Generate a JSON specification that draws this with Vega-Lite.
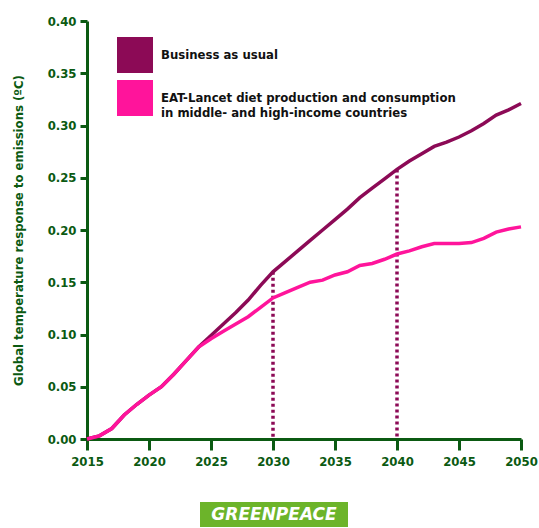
{
  "$schema": "https://vega.github.io/schema/vega-lite/v6.json",
  "padding": {"left": 12, "top": 15, "right": 5, "bottom": 0},
  "background": "white",
  "spacing": 34,
  "config": {
    "view": {"stroke": null},
    "axis": {
      "domainColor": "#0b5a12", "domainWidth": 3, "tickColor": "#0b5a12", "tickWidth": 3,
      "labelColor": "#0b5a12", "labelFont": "DejaVu Sans Condensed", "labelFontWeight": "bold", "labelFontSize": 13,
      "titleColor": "#0b5a12", "titleFont": "DejaVu Sans Condensed", "titleFontWeight": "bold", "titleFontSize": 13,
      "grid": false
    }
  },
  "datasets": {
    "lines": [
      {"year": 2015, "value": 0.0, "series": "Business as usual"},
      {"year": 2016, "value": 0.003, "series": "Business as usual"},
      {"year": 2017, "value": 0.01, "series": "Business as usual"},
      {"year": 2018, "value": 0.023, "series": "Business as usual"},
      {"year": 2019, "value": 0.033, "series": "Business as usual"},
      {"year": 2020, "value": 0.042, "series": "Business as usual"},
      {"year": 2021, "value": 0.05, "series": "Business as usual"},
      {"year": 2022, "value": 0.062, "series": "Business as usual"},
      {"year": 2023, "value": 0.075, "series": "Business as usual"},
      {"year": 2024, "value": 0.088, "series": "Business as usual"},
      {"year": 2025, "value": 0.099, "series": "Business as usual"},
      {"year": 2026, "value": 0.11, "series": "Business as usual"},
      {"year": 2027, "value": 0.121, "series": "Business as usual"},
      {"year": 2028, "value": 0.133, "series": "Business as usual"},
      {"year": 2029, "value": 0.147, "series": "Business as usual"},
      {"year": 2030, "value": 0.16, "series": "Business as usual"},
      {"year": 2031, "value": 0.17, "series": "Business as usual"},
      {"year": 2032, "value": 0.18, "series": "Business as usual"},
      {"year": 2033, "value": 0.19, "series": "Business as usual"},
      {"year": 2034, "value": 0.2, "series": "Business as usual"},
      {"year": 2035, "value": 0.21, "series": "Business as usual"},
      {"year": 2036, "value": 0.22, "series": "Business as usual"},
      {"year": 2037, "value": 0.231, "series": "Business as usual"},
      {"year": 2038, "value": 0.24, "series": "Business as usual"},
      {"year": 2039, "value": 0.249, "series": "Business as usual"},
      {"year": 2040, "value": 0.258, "series": "Business as usual"},
      {"year": 2041, "value": 0.266, "series": "Business as usual"},
      {"year": 2042, "value": 0.273, "series": "Business as usual"},
      {"year": 2043, "value": 0.28, "series": "Business as usual"},
      {"year": 2044, "value": 0.284, "series": "Business as usual"},
      {"year": 2045, "value": 0.289, "series": "Business as usual"},
      {"year": 2046, "value": 0.295, "series": "Business as usual"},
      {"year": 2047, "value": 0.302, "series": "Business as usual"},
      {"year": 2048, "value": 0.31, "series": "Business as usual"},
      {"year": 2049, "value": 0.315, "series": "Business as usual"},
      {"year": 2050, "value": 0.321, "series": "Business as usual"},
      {"year": 2015, "value": 0.0, "series": "EAT"},
      {"year": 2016, "value": 0.003, "series": "EAT"},
      {"year": 2017, "value": 0.01, "series": "EAT"},
      {"year": 2018, "value": 0.023, "series": "EAT"},
      {"year": 2019, "value": 0.033, "series": "EAT"},
      {"year": 2020, "value": 0.042, "series": "EAT"},
      {"year": 2021, "value": 0.05, "series": "EAT"},
      {"year": 2022, "value": 0.062, "series": "EAT"},
      {"year": 2023, "value": 0.075, "series": "EAT"},
      {"year": 2024, "value": 0.088, "series": "EAT"},
      {"year": 2025, "value": 0.096, "series": "EAT"},
      {"year": 2026, "value": 0.103, "series": "EAT"},
      {"year": 2027, "value": 0.11, "series": "EAT"},
      {"year": 2028, "value": 0.117, "series": "EAT"},
      {"year": 2029, "value": 0.126, "series": "EAT"},
      {"year": 2030, "value": 0.135, "series": "EAT"},
      {"year": 2031, "value": 0.14, "series": "EAT"},
      {"year": 2032, "value": 0.145, "series": "EAT"},
      {"year": 2033, "value": 0.15, "series": "EAT"},
      {"year": 2034, "value": 0.152, "series": "EAT"},
      {"year": 2035, "value": 0.157, "series": "EAT"},
      {"year": 2036, "value": 0.16, "series": "EAT"},
      {"year": 2037, "value": 0.166, "series": "EAT"},
      {"year": 2038, "value": 0.168, "series": "EAT"},
      {"year": 2039, "value": 0.172, "series": "EAT"},
      {"year": 2040, "value": 0.177, "series": "EAT"},
      {"year": 2041, "value": 0.18, "series": "EAT"},
      {"year": 2042, "value": 0.184, "series": "EAT"},
      {"year": 2043, "value": 0.187, "series": "EAT"},
      {"year": 2044, "value": 0.187, "series": "EAT"},
      {"year": 2045, "value": 0.187, "series": "EAT"},
      {"year": 2046, "value": 0.188, "series": "EAT"},
      {"year": 2047, "value": 0.192, "series": "EAT"},
      {"year": 2048, "value": 0.198, "series": "EAT"},
      {"year": 2049, "value": 0.201, "series": "EAT"},
      {"year": 2050, "value": 0.203, "series": "EAT"}
    ],
    "marks": [
      {"year": 2030, "value": 0.16},
      {"year": 2040, "value": 0.258}
    ],
    "logo": [{"text": "GREENPEACE"}],
    "empty": []
  },
  "vconcat": [
    {
      "width": 434,
      "height": 418,
      "layer": [
        {
          "data": {"name": "marks"},
          "mark": {"type": "rule", "color": "#8c0a56", "strokeWidth": 3.5, "strokeDash": [3, 3]},
          "encoding": {
            "x": {"field": "year", "type": "quantitative"},
            "y": {"field": "value", "type": "quantitative"},
            "y2": {"datum": 0}
          }
        },
        {
          "data": {"name": "lines"},
          "mark": {"type": "line", "strokeWidth": 3.5},
          "encoding": {
            "x": {
              "field": "year", "type": "quantitative",
              "scale": {"domain": [2015, 2050], "nice": false, "zero": false},
              "axis": {"title": null, "values": [2015, 2020, 2025, 2030, 2035, 2040, 2045, 2050], "format": "d", "tickSize": 11, "labelPadding": 5, "labelFlush": false}
            },
            "y": {
              "field": "value", "type": "quantitative",
              "scale": {"domain": [0, 0.4], "nice": false},
              "axis": {"title": "Global temperature response to emissions (ºC)", "values": [0, 0.05, 0.1, 0.15, 0.2, 0.25, 0.3, 0.35, 0.4], "format": ".2f", "tickSize": 7, "labelPadding": 4, "titlePadding": 22}
            },
            "color": {
              "field": "series", "type": "nominal",
              "scale": {"domain": ["Business as usual", "EAT"], "range": ["#8c0a56", "#ff149b"]},
              "legend": {
                "title": null,
                "orient": "none",
                "legendX": 30,
                "legendY": 16,
                "symbolType": "square",
                "symbolSize": 1296,
                "symbolStrokeWidth": 0,
                "rowPadding": 7,
                "labelOffset": 8,
                "labelLimit": 400,
                "labelFont": "DejaVu Sans Condensed",
                "labelFontWeight": "bold",
                "labelFontSize": 13,
                "labelColor": "#111111",
                "labelExpr": "datum.value == 'EAT' ? ['EAT-Lancet diet production and consumption', 'in middle- and high-income countries'] : datum.label",
                "encode": {"symbols": {"update": {"fill": {"scale": "color", "field": "value"}, "fillOpacity": {"value": 1}}}}
              }
            }
          }
        }
      ]
    },
    {
      "spacing": 10,
      "hconcat": [
        {
          "data": {"name": "empty"},
          "width": 103,
          "height": 25,
          "mark": {"type": "text"},
          "encoding": {}
        },
        {
          "data": {"name": "logo"},
          "width": 148,
          "height": 25,
          "view": {"fill": "#6cb42a", "stroke": null},
          "mark": {"type": "text", "color": "white", "font": "DejaVu Sans", "fontWeight": "bold", "fontStyle": "italic", "fontSize": 17, "baseline": "middle", "align": "center"},
          "encoding": {"text": {"field": "text", "type": "nominal"}}
        }
      ]
    }
  ]
}
